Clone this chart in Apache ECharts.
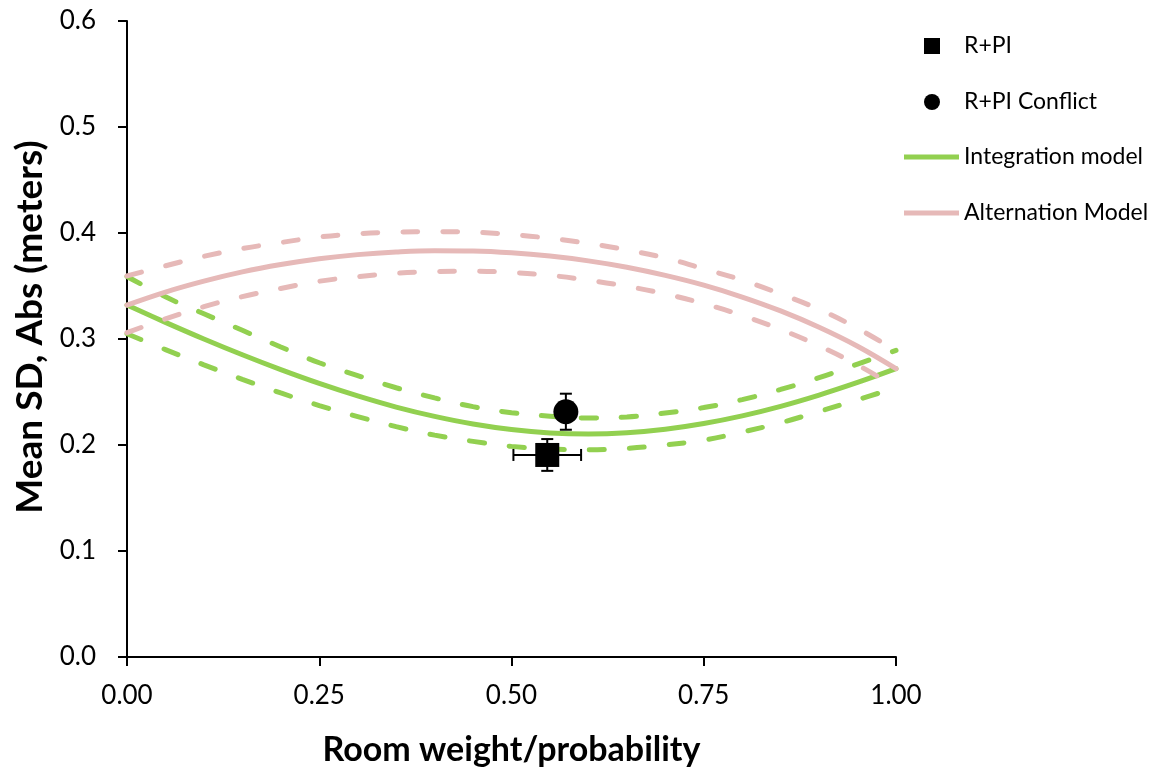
<!DOCTYPE html>
<html><head><meta charset="utf-8">
<script src="https://cdn.jsdelivr.net/npm/echarts@6/dist/echarts.min.js"></script>
<style>html,body{margin:0;padding:0;background:#fff}#c{width:1169px;height:768px}</style>
</head><body><div id="c"></div>
<script>
const weights = [0,0.05,0.1,0.15,0.2,0.25,0.3,0.35,0.4,0.45,0.5,0.55,0.6,0.65,0.7,0.75,0.8,0.85,0.9,0.95,1];
const integration = [0.332,0.3157,0.300,0.2851,0.2711,0.2581,0.2463,0.2358,0.2270,0.2198,0.2146,0.2114,0.2104,0.2116,0.2149,0.2203,0.2275,0.2365,0.2471,0.2590,0.272];
const integrationUpper = [0.359,0.3398,0.3238,0.3082,0.2925,0.2776,0.2655,0.2540,0.2444,0.2362,0.2305,0.2272,0.2254,0.2264,0.2302,0.2353,0.2428,0.2524,0.2635,0.2763,0.2893];
const integrationLower = [0.305,0.290,0.2756,0.2620,0.2491,0.2372,0.2268,0.2173,0.2093,0.2034,0.1987,0.1962,0.1955,0.1968,0.2001,0.2046,0.2122,0.2210,0.2316,0.2427,0.2540];
const alternation = [0.332,0.3443,0.3546,0.3633,0.3702,0.3757,0.3796,0.3821,0.3833,0.3830,0.3813,0.3782,0.3737,0.3677,0.3600,0.3508,0.3396,0.3265,0.3111,0.2932,0.272];
const alternationUpper = [0.3595,0.369,0.378,0.3853,0.391,0.3962,0.3993,0.4008,0.4013,0.4008,0.3986,0.3950,0.3902,0.3840,0.3765,0.3662,0.3555,0.3425,0.3280,0.3100,0.289];
const alternationLower = [0.306,0.319,0.3305,0.3400,0.3477,0.3545,0.3587,0.3620,0.3636,0.3640,0.3627,0.3600,0.3555,0.3497,0.3425,0.3333,0.3222,0.3090,0.2935,0.2755,0.2545];

// points: [x, y, xError, yError]
const rpi = [0.5465, 0.1906, 0.044, 0.015];
const rpiConflict = [0.5707, 0.2314, 0, 0.017];

const xTicks = ['0.00','0.25','0.50','0.75','1.00'];
const yTicks = ['0.0','0.1','0.2','0.3','0.4','0.5','0.6'];

const GREEN = '#92D050';
const PINK = '#E6B9B8';
const FONT = 'Lato';

function pairs(ys){ return weights.map((w,i)=>[w, ys[i]]); }

function lineSeries(name, ys, color, dashed, z){
  return {
    name: name, type: 'line', data: pairs(ys), smooth: 0.4, symbol: 'none', z: z,
    lineStyle: { color: color, width: 5, type: dashed ? [15,25] : 'solid', cap: 'round' },
    itemStyle: { color: color },
    emphasis: { disabled: true }, silent: true
  };
}

const errData = [rpi, rpiConflict];

const chart = echarts.init(document.getElementById('c'));
chart.setOption({
  animation: false,
  backgroundColor: '#fff',
  textStyle: { fontFamily: FONT },
  grid: { left: 127, right: 273, top: 21, bottom: 111, containLabel: false, outerBoundsMode: 'none' },
  xAxis: {
    type: 'value', min: 0, max: 1, interval: 0.25,
    name: 'Room weight/probability', nameLocation: 'middle', nameGap: 76,
    nameTextStyle: { fontFamily: FONT, fontSize: 34, fontWeight: 'bold', color: '#000' },
    axisLine: { show: true, lineStyle: { color: '#000', width: 2 } },
    axisTick: { show: true, inside: false, length: 9, lineStyle: { color: '#000', width: 2 } },
    axisLabel: { fontFamily: FONT, fontSize: 26, color: '#000', margin: 26,
      formatter: v => xTicks[Math.round(v/0.25)] },
    splitLine: { show: false }
  },
  yAxis: {
    type: 'value', min: 0, max: 0.6, interval: 0.1,
    name: 'Mean SD, Abs (meters)', nameLocation: 'middle', nameGap: 67,
    nameTextStyle: { fontFamily: FONT, fontSize: 37, fontWeight: 'bold', color: '#000', padding: [0,0,0,24] },
    axisLine: { show: true, lineStyle: { color: '#000', width: 2 } },
    axisTick: { show: true, inside: false, length: 9, lineStyle: { color: '#000', width: 2 } },
    axisLabel: { fontFamily: FONT, fontSize: 26, color: '#000', margin: 31,
      formatter: v => yTicks[Math.round(v/0.1)] },
    splitLine: { show: false }
  },
  legend: [
    {
      data: ['R+PI', 'R+PI Conflict'], orient: 'vertical', left: 919, top: 29,
      itemWidth: 16, itemHeight: 16, itemGap: 32, selectedMode: false,
      textStyle: { fontFamily: FONT, fontSize: 23, color: '#000', lineHeight: 24, padding: [0,0,0,19] }
    },
    {
      data: [{ name: 'Integration model', icon: 'rect' }, { name: 'Alternation Model', icon: 'rect' }],
      orient: 'vertical', left: 899, top: 140,
      itemWidth: 55, itemHeight: 5, itemGap: 32, selectedMode: false,
      textStyle: { fontFamily: FONT, fontSize: 23, color: '#000', lineHeight: 24 }
    }
  ],
  series: [
    lineSeries('Integration model', integration, GREEN, false, 2),
    lineSeries('Integration upper', integrationUpper, GREEN, true, 2),
    lineSeries('Integration lower', integrationLower, GREEN, true, 2),
    lineSeries('Alternation Model', alternation, PINK, false, 3),
    lineSeries('Alternation upper', alternationUpper, PINK, true, 3),
    lineSeries('Alternation lower', alternationLower, PINK, true, 3),
    {
      name: 'errorbars', type: 'custom', z: 5, silent: true,
      data: errData,
      renderItem: function(params, api){
        const x = api.value(0), y = api.value(1), ex = api.value(2), ey = api.value(3);
        const st = { stroke: '#000', lineWidth: 2 };
        const cap = 6;
        const children = [];
        if (ey > 0) {
          const top = api.coord([x, y + ey]);
          const bot = api.coord([x, y - ey]);
          children.push({ type: 'line', shape: { x1: top[0], y1: top[1], x2: bot[0], y2: bot[1] }, style: st });
          children.push({ type: 'line', shape: { x1: top[0]-cap, y1: top[1], x2: top[0]+cap, y2: top[1] }, style: st });
          children.push({ type: 'line', shape: { x1: bot[0]-cap, y1: bot[1], x2: bot[0]+cap, y2: bot[1] }, style: st });
        }
        if (ex > 0) {
          const l = api.coord([x - ex, y]);
          const r = api.coord([x + ex, y]);
          children.push({ type: 'line', shape: { x1: l[0], y1: l[1], x2: r[0], y2: r[1] }, style: st });
          children.push({ type: 'line', shape: { x1: l[0], y1: l[1]-cap, x2: l[0], y2: l[1]+cap }, style: st });
          children.push({ type: 'line', shape: { x1: r[0], y1: r[1]-cap, x2: r[0], y2: r[1]+cap }, style: st });
        }
        return { type: 'group', children: children };
      }
    },
    {
      name: 'R+PI', type: 'scatter', symbol: 'rect', symbolSize: 24, z: 6,
      data: [[rpi[0], rpi[1]]], itemStyle: { color: '#000', opacity: 1 }, silent: true
    },
    {
      name: 'R+PI Conflict', type: 'scatter', symbol: 'circle', symbolSize: 25, z: 6,
      data: [[rpiConflict[0], rpiConflict[1]]], itemStyle: { color: '#000', opacity: 1 }, silent: true
    }
  ]
});
</script>
</body></html>
